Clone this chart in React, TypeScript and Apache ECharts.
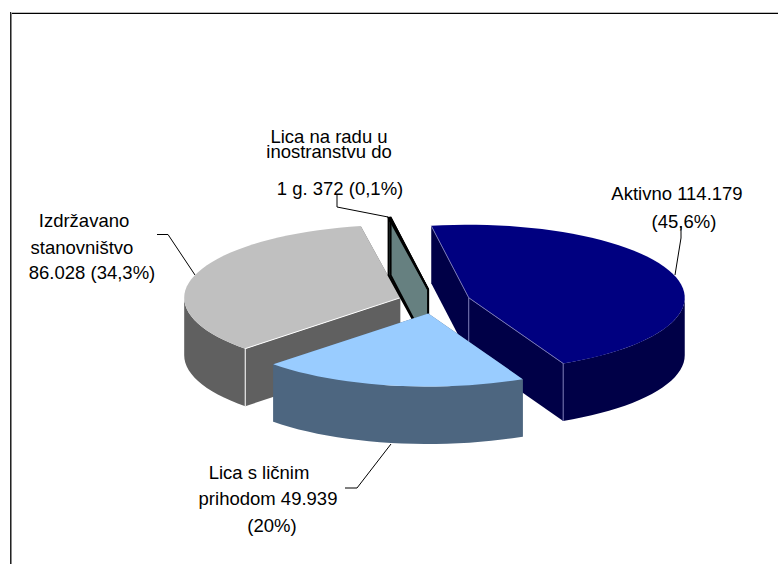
import React, { useEffect, useRef } from "react";
import * as echarts from "echarts";

const categories = ["Aktivno", "Lica s ličnim prihodom", "Izdržavano stanovništvo", "Lica na radu u inostranstvu do 1 g."];
const seriesValues = [114179, 49939, 86028, 372];
const topColors = ["#000080", "#99CCFF", "#C0C0C0", "#CCFFFF"];
const sideColors = ["#000047", "#4D6680", "#606060", "#668080"];
const edgeColors = ["#7676B4", "none", "#FFFFFF", "#000000"];
const drawOrder = [2, 3, 0, 1];
const startAngle = -10;

const labelLines = [
  { text: "Lica na radu u\ninostranstvu do", x: 329, y: 144, lineHeight: 15 },
  { text: "1 g. 372 (0,1%)", x: 340, y: 188 },
  { text: "Aktivno 114.179", x: 677, y: 193 },
  { text: "(45,6%)", x: 684, y: 221 },
  { text: "Izdržavano", x: 84, y: 220 },
  { text: "stanovništvo", x: 82, y: 247 },
  { text: "86.028 (34,3%)", x: 92, y: 272 },
  { text: "Lica s ličnim", x: 259, y: 472 },
  { text: "prihodom 49.939", x: 268, y: 498 },
  { text: "(20%)", x: 272, y: 525 },
];
const leaderLines = [
  [[337, 195], [337, 207], [388, 217]],
  [[681, 226], [681, 238], [675, 275]],
  [[157, 234.5], [168, 234.5], [195, 275]],
  [[345, 488], [357, 488], [391, 444]],
];

const CX = 434.5, CY = 301.5, RX = 216, RY = 73, EXPLODE = 36, DEPTH = 57.5;

function renderSlice(params: any, api: any) {
  const i = api.value(0);
  const a0 = api.value(1), a1 = api.value(2);
  const rad = (d: number) => (d * Math.PI) / 180;
  const mid = rad((a0 + a1) / 2);
  const ax = CX + EXPLODE * Math.sin(mid);
  const ay = CY - (EXPLODE * RY / RX) * Math.cos(mid);
  const pt = (d: number, dz = 0) => [ax + RX * Math.sin(rad(d)), ay - RY * Math.cos(rad(d)) + dz];
  const n = Math.max(2, Math.ceil((a1 - a0) / 3));
  const arc: number[][] = [];
  for (let k = 0; k <= n; k++) arc.push(pt(a0 + ((a1 - a0) * k) / n));
  const isThin = i === 3;
  const side = sideColors[i];
  const children: any[] = [];
  const quad = (pts: number[][]) => ({
    type: "polygon",
    shape: { points: pts },
    style: { fill: side, stroke: isThin ? "#000" : "none", lineWidth: isThin ? 2 : 0 },
  });
  children.push(quad([[ax, ay], pt(a0), pt(a0, DEPTH), [ax, ay + DEPTH]]));
  children.push(quad([[ax, ay], pt(a1), pt(a1, DEPTH), [ax, ay + DEPTH]]));
  // outer rim: only its front-facing part, between 90 and 270 degrees
  const rim: number[][] = [];
  const lo = Math.max(a0, 90), hi = Math.min(a1, 270);
  if (hi > lo) {
    const m = Math.ceil((hi - lo) / 3);
    for (let k = 0; k <= m; k++) rim.push(pt(lo + ((hi - lo) * k) / m));
    const lower = rim.map((p) => [p[0], p[1] + DEPTH]).reverse();
    children.push({ type: "polygon", shape: { points: [...rim, ...lower] }, style: { fill: side } });
  }
  children.push({
    type: "polygon",
    shape: { points: [[ax, ay], ...arc] },
    style: { fill: topColors[i], stroke: isThin ? "#000" : "none", lineWidth: isThin ? 2 : 0 },
  });
  const ln = (p: number[], q: number[]) => ({
    type: "line",
    shape: { x1: p[0], y1: p[1], x2: q[0], y2: q[1] },
    style: { stroke: edgeColors[i], lineWidth: 1 },
  });
  if (i === 0) children.push(ln([ax, ay], pt(a0)), ln([ax, ay], pt(a1)), ln([ax, ay], [ax, ay + DEPTH]), ln(pt(a1), pt(a1, DEPTH)));
  if (i === 2) children.push(ln([ax, ay], pt(a0)), ln(pt(a0), pt(a0, DEPTH)));
  return { type: "group", children };
}

export default function App() {
  const ref = useRef<HTMLDivElement>(null);
  useEffect(() => {
    const chart = echarts.init(ref.current!, null, { renderer: "svg" });
    const total = seriesValues.reduce((a, b) => a + b, 0);
    let acc = startAngle;
    const spans = seriesValues.map((v, i) => {
      const s = acc;
      acc += (v / total) * 360;
      return { i, s, e: acc };
    });
    const ordered = drawOrder.map((i) => spans[i]);
    const frame = (x1: number, y1: number, x2: number, y2: number, stroke: string) => ({
      type: "line",
      shape: { x1, y1, x2, y2 },
      style: { stroke, lineWidth: 1 },
    });
    chart.setOption({
      animation: false,
      backgroundColor: "#fff",
      series: [
        {
          type: "custom",
          coordinateSystem: "none",
          silent: true,
          data: ordered.map((o) => ({ name: categories[o.i], value: [o.i, o.s, o.e] })),
          renderItem: renderSlice,
        },
      ],
      graphic: [
        frame(10, 12.5, 778, 12.5, "#BDBDBD"),
        frame(10, 13.5, 778, 13.5, "#000"),
        frame(10.5, 12, 10.5, 564, "#222"),
        frame(11.5, 13, 11.5, 564, "#888"),
        ...leaderLines.map((pts) => ({
          type: "polyline",
          shape: { points: pts },
          style: { stroke: "#000", fill: "none", lineWidth: 1 },
        })),
        ...labelLines.map((l) => ({
          type: "text",
          x: l.x,
          y: l.y,
          style: {
            text: l.text,
            fill: "#000",
            font: '18.5px "Liberation Sans", Arial, sans-serif',
            lineHeight: l.lineHeight,
            textAlign: "center",
            textVerticalAlign: "middle",
          },
        })),
      ],
    });
    return () => chart.dispose();
  }, []);
  return <div ref={ref} style={{ position: "absolute", left: 0, top: 0, width: 778, height: 564 }} />;
}
